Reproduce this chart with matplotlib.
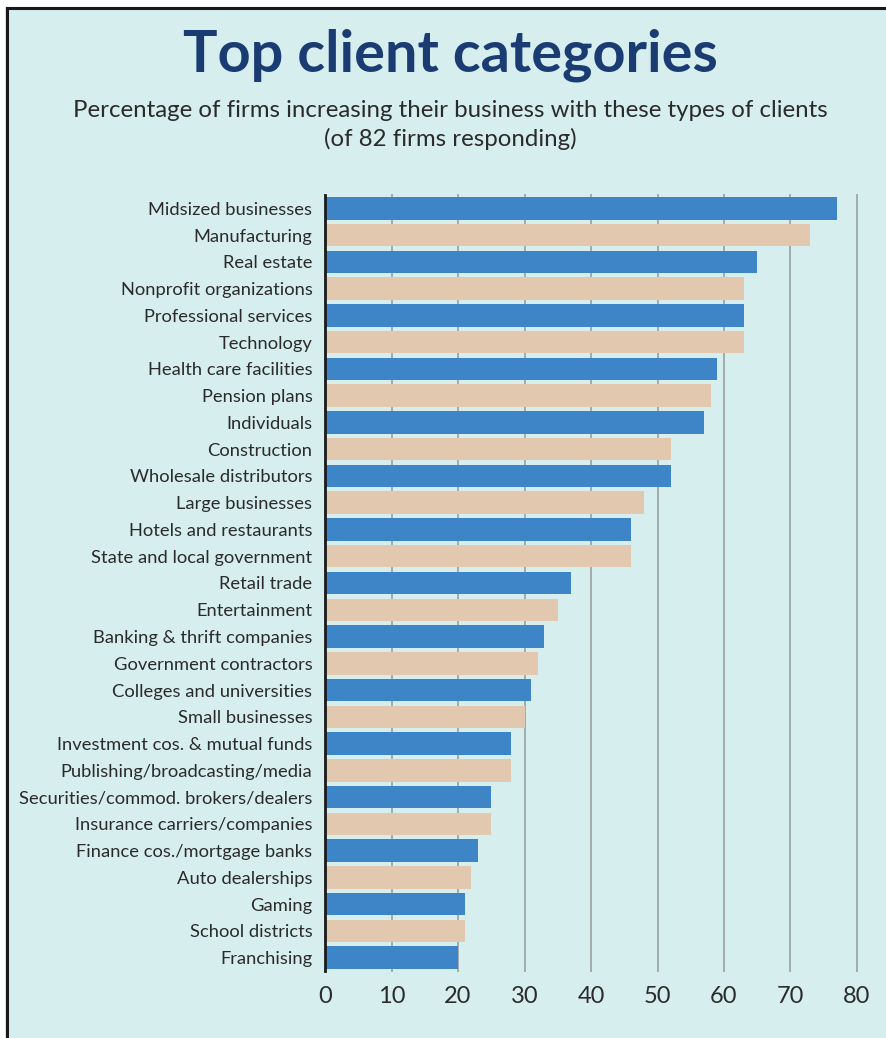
import matplotlib
matplotlib.use("Agg")
import matplotlib.pyplot as plt
from matplotlib.lines import Line2D
from matplotlib.patches import Rectangle

categories = [
    "Midsized businesses", "Manufacturing", "Real estate", "Nonprofit organizations",
    "Professional services", "Technology", "Health care facilities", "Pension plans",
    "Individuals", "Construction", "Wholesale distributors", "Large businesses",
    "Hotels and restaurants", "State and local government", "Retail trade",
    "Entertainment", "Banking & thrift companies", "Government contractors",
    "Colleges and universities", "Small businesses", "Investment cos. & mutual funds",
    "Publishing/broadcasting/media", "Securities/commod. brokers/dealers",
    "Insurance carriers/companies", "Finance cos./mortgage banks", "Auto dealerships",
    "Gaming", "School districts", "Franchising",
]
values = [77, 73, 65, 63, 63, 63, 59, 58, 57, 52, 52, 48, 46, 46, 37,
          35, 33, 32, 31, 30, 28, 28, 25, 25, 23, 22, 21, 21, 20]
xticks = [0, 10, 20, 30, 40, 50, 60, 70, 80]

BG = "#d6eeed"
BLUE = "#3d85c6"
BEIGE = "#e3c8b0"
NAVY = "#1b3c73"
TEXT = "#2b2b2b"

W, H = 886, 1038
fig = plt.figure(figsize=(W / 100, H / 100), dpi=100, facecolor=BG)

# white margins above/left of the frame and frame lines
fig.patches.append(Rectangle((0, 1 - 7 / H), 1, 7 / H, transform=fig.transFigure,
                             facecolor="white", edgecolor="none", zorder=0))
fig.patches.append(Rectangle((0, 0), 5 / W, 1, transform=fig.transFigure,
                             facecolor="white", edgecolor="none", zorder=0))
fig.lines.append(Line2D([6.5 / W, 1], [1 - 8 / H, 1 - 8 / H], transform=fig.transFigure,
                        color="#1a1a1a", lw=2.2))
fig.lines.append(Line2D([6.5 / W, 6.5 / W], [0, 1 - 8 / H], transform=fig.transFigure,
                        color="#1a1a1a", lw=2.2))

fig.text(450 / W, 1 - 72 / H, "Top client categories", ha="center", va="baseline",
         fontsize=41.5, fontweight="bold", color=NAVY, family="Lato")
fig.text(450 / W, 1 - 117 / H,
         "Percentage of firms increasing their business with these types of clients",
         ha="center", va="baseline", fontsize=17.3, color=TEXT, family="Lato")
fig.text(450 / W, 1 - 146 / H, "(of 82 firms responding)", ha="center", va="baseline",
         fontsize=17.3, color=TEXT, family="Lato")

ax = fig.add_axes([325 / W, 1 - 971 / H, (857 - 325) / W, (971 - 195) / H])
ax.set_facecolor("none")
pos = list(range(len(categories)))
colors = [BLUE if i % 2 == 0 else BEIGE for i in pos]
ax.barh(pos, values, height=0.84, color=colors, zorder=3)
ax.set_ylim(len(categories) - 0.5, -0.5)
ax.set_xlim(0, 80)
ax.set_xticks(xticks)
ax.set_xticklabels([str(t) for t in xticks], fontsize=17, color=TEXT, family="Lato")
ax.set_yticks(pos)
ax.set_yticklabels(categories, fontsize=13.2, color=TEXT, family="Lato")
ax.tick_params(axis="y", length=0, pad=9)
ax.tick_params(axis="x", length=0, pad=11)
for t in xticks[1:]:
    ax.axvline(t, color="#a3abab", lw=1.4, zorder=1, clip_on=False)
for s in ["top", "right", "bottom"]:
    ax.spines[s].set_visible(False)
ax.spines["left"].set_color("#1a1a1a")
ax.spines["left"].set_linewidth(2)
ax.spines["left"].set_zorder(4)

fig.savefig("out.png", dpi=100, facecolor=BG)
